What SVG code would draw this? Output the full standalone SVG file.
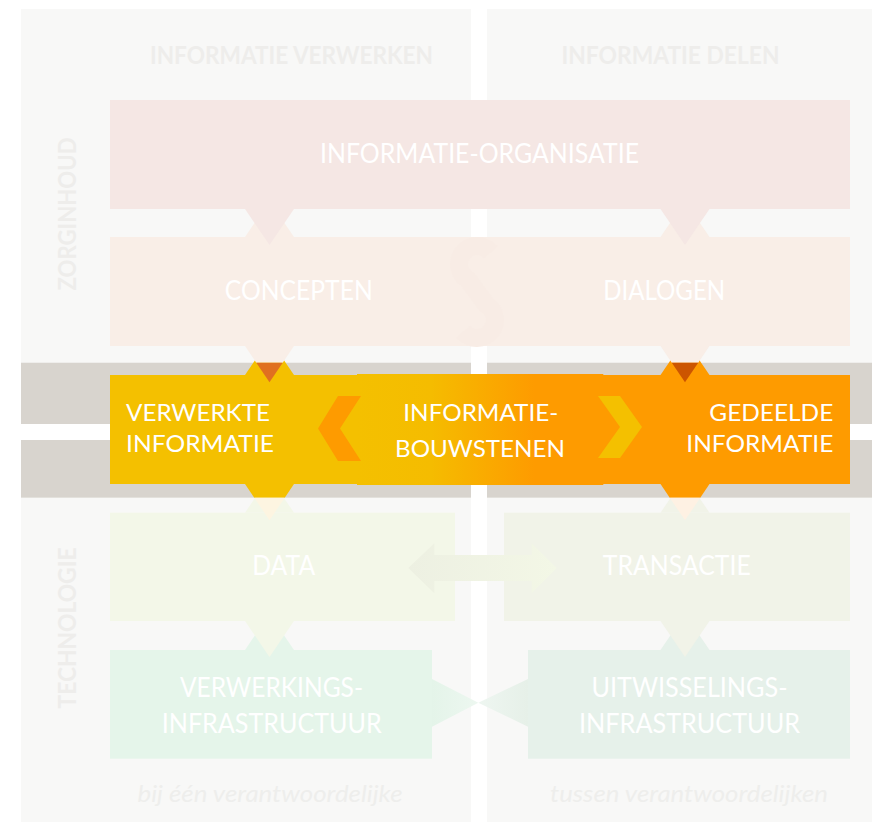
<svg xmlns="http://www.w3.org/2000/svg" width="872" height="822" viewBox="0 0 872 822">
<style>
.lbl{font-family:Lato,"Open Sans","Liberation Sans",sans-serif;fill:#ffffff;font-size:27px}
.r3{font-size:24px}
.hd{font-family:Lato,"Open Sans","Liberation Sans",sans-serif;font-weight:bold;fill:#eeedeb;font-size:25.5px}
.it{font-family:Lato,"Open Sans","Liberation Sans",sans-serif;font-style:italic;fill:#eeeeec;font-size:24px}
.panel{fill:#f8f8f7}
.band{fill:#d8d4ce}
</style>
<defs>
<linearGradient id="gBou" x1="357" y1="0" x2="603.3" y2="0" gradientUnits="userSpaceOnUse">
<stop offset="0" stop-color="#f4c000"/><stop offset="0.3" stop-color="#f5bc00"/><stop offset="0.72" stop-color="#fe9b00"/><stop offset="1" stop-color="#fe9b00"/>
</linearGradient>
<linearGradient id="gArrow" x1="408" y1="0" x2="557" y2="0" gradientUnits="userSpaceOnUse">
<stop offset="0" stop-color="#edf0e2"/><stop offset="1" stop-color="#f3f7e6"/>
</linearGradient>
<linearGradient id="gBowL" x1="432" y1="0" x2="478" y2="0" gradientUnits="userSpaceOnUse">
<stop offset="0" stop-color="#e4f4e9"/><stop offset="1" stop-color="#edf7f0"/>
</linearGradient>
<linearGradient id="gBowR" x1="528" y1="0" x2="478" y2="0" gradientUnits="userSpaceOnUse">
<stop offset="0" stop-color="#e6f0e8"/><stop offset="1" stop-color="#eef6f1"/>
</linearGradient>
</defs>
<rect width="872" height="822" fill="#ffffff"/>
<g id="background">
<rect class="panel" x="21" y="9" width="450" height="813"/>
<rect class="panel" x="487" y="9" width="385" height="813"/>
<rect x="0" y="362.7" width="872" height="135" fill="#ffffff"/>
<rect class="band" x="21" y="362.7" width="450" height="61.3"/>
<rect class="band" x="487" y="362.7" width="385" height="61.3"/>
<rect class="band" x="21" y="440" width="450" height="57.7"/>
<rect class="band" x="487" y="440" width="385" height="57.7"/>
</g>
<g id="headers">
<text class="hd" x="291.5" y="64" text-anchor="middle" textLength="283" lengthAdjust="spacingAndGlyphs">INFORMATIE VERWERKEN</text>
<text class="hd" x="670.5" y="64" text-anchor="middle" textLength="218" lengthAdjust="spacingAndGlyphs">INFORMATIE DELEN</text>
<text class="hd" transform="translate(76,214) rotate(-90)" text-anchor="middle" textLength="153" lengthAdjust="spacingAndGlyphs">ZORGINHOUD</text>
<text class="hd" transform="translate(76,628) rotate(-90)" text-anchor="middle" textLength="161" lengthAdjust="spacingAndGlyphs">TECHNOLOGIE</text>
<text class="it" x="270" y="802" text-anchor="middle" textLength="265" lengthAdjust="spacingAndGlyphs">bij één verantwoordelijke</text>
<text class="it" x="689" y="802" text-anchor="middle" textLength="278" lengthAdjust="spacingAndGlyphs">tussen verantwoordelijken</text>
</g>
<g id="node-verwerkings-infrastructuur">
<polygon points="245,650 294,650 269.5,614" fill="#e5f5ea"/>
<rect x="110" y="650" width="322" height="108.7" fill="#e5f5ea"/>
<polygon points="432,679 478.3,702.7 432,726.7" fill="url(#gBowL)"/>
<text class="lbl" x="271.5" y="696.7" text-anchor="middle" textLength="183" lengthAdjust="spacingAndGlyphs">VERWERKINGS-</text>
<text class="lbl" x="271.7" y="733.3" text-anchor="middle" textLength="220" lengthAdjust="spacingAndGlyphs">INFRASTRUCTUUR</text>
</g>
<g id="node-uitwisselings-infrastructuur">
<polygon points="660.5,650 709.5,650 685,614" fill="#e6f1ea"/>
<rect x="528" y="650" width="322" height="108.7" fill="#e6f1ea"/>
<polygon points="528,679 478.3,702.7 528,726.7" fill="url(#gBowR)"/>
<text class="lbl" x="689.5" y="696.7" text-anchor="middle" textLength="196" lengthAdjust="spacingAndGlyphs">UITWISSELINGS-</text>
<text class="lbl" x="689.5" y="733.3" text-anchor="middle" textLength="221" lengthAdjust="spacingAndGlyphs">INFRASTRUCTUUR</text>
</g>
<g id="node-data">
<polygon points="245,512.7 294,512.7 269.5,476.7" fill="#f3f7e8"/>
<rect x="110" y="512.7" width="345" height="108.3" fill="#f3f7e8"/>
<polygon points="245,621 294,621 269.5,657" fill="#f3f7e8"/>
<text class="lbl" x="283.7" y="575" text-anchor="middle" textLength="63" lengthAdjust="spacingAndGlyphs">DATA</text>
</g>
<g id="node-transactie">
<polygon points="660.5,512.7 709.5,512.7 685,476.7" fill="#f1f3e8"/>
<rect x="504" y="512.7" width="346" height="108.3" fill="#f1f3e8"/>
<polygon points="660.5,621 709.5,621 685,657" fill="#f1f3e8"/>
<text class="lbl" x="676.8" y="575" text-anchor="middle" textLength="148" lengthAdjust="spacingAndGlyphs">TRANSACTIE</text>
</g>
<g id="node-verwerkte-informatie">
<polygon points="245,375 294,375 269.5,339" fill="#f4c000"/>
<rect x="110" y="375" width="370" height="109" fill="#f4c000"/>
<polygon points="245,484 294,484 284.75,497.7 254.25,497.7" fill="#f4c000"/>
<polygon points="254.25,497.7 284.75,497.7 269.5,520.3" fill="#fdf5e1"/>
<text class="lbl r3" x="126" y="420.7" textLength="144" lengthAdjust="spacingAndGlyphs">VERWERKTE</text>
<text class="lbl r3" x="126" y="451.7" textLength="148" lengthAdjust="spacingAndGlyphs">INFORMATIE</text>
</g>
<g id="node-gedeelde-informatie">
<polygon points="660.5,375 709.5,375 685,339" fill="#fe9b00"/>
<rect x="480" y="375" width="370" height="109" fill="#fe9b00"/>
<polygon points="660.5,484 709.5,484 700.25,497.7 669.75,497.7" fill="#fe9b00"/>
<polygon points="669.75,497.7 700.25,497.7 685,520.3" fill="#fef1e3"/>
<text class="lbl r3" x="833.3" y="420.7" text-anchor="end" textLength="124" lengthAdjust="spacingAndGlyphs">GEDEELDE</text>
<text class="lbl r3" x="833.3" y="451.7" text-anchor="end" textLength="147" lengthAdjust="spacingAndGlyphs">INFORMATIE</text>
</g>
<g id="node-informatie-bouwstenen">
<rect x="357" y="374" width="246.3" height="111" fill="url(#gBou)"/>
<text class="lbl r3" x="480.8" y="420.7" text-anchor="middle" textLength="155" lengthAdjust="spacingAndGlyphs">INFORMATIE-</text>
<text class="lbl r3" x="480" y="457.3" text-anchor="middle" textLength="170" lengthAdjust="spacingAndGlyphs">BOUWSTENEN</text>
</g>
<g id="connectors">
<polygon points="338,396 361,396 340,428.5 361,461 338,461 318,428.5" fill="#fe9b00"/>
<polygon points="598,396 620,396 642,427 620,458 598,458 620,427" fill="#f4c000"/>
<polygon points="408.3,568 434.3,543.3 434.3,555 531.7,555 531.7,543.3 556.7,568 531.7,593.3 531.7,581 434.3,581 434.3,593.3" fill="url(#gArrow)"/>
</g>
<g id="node-concepten">
<polygon points="245,237 294,237 269.5,201" fill="#f9eee7"/>
<rect x="110" y="237" width="370" height="109" fill="#f9eee7"/>
<polygon points="245,346 294,346 282.73,362.7 256.27,362.7" fill="#f9eee7"/>
<polygon points="256.27,362.7 282.73,362.7 269.5,382.3" fill="#e07020"/>
<text class="lbl" x="298.8" y="300" text-anchor="middle" textLength="148" lengthAdjust="spacingAndGlyphs">CONCEPTEN</text>
</g>
<g id="node-dialogen">
<polygon points="660.5,237 709.5,237 685,201" fill="#f9eee7"/>
<rect x="480" y="237" width="370" height="109" fill="#f9eee7"/>
<polygon points="660.5,346 709.5,346 698.23,362.7 671.77,362.7" fill="#f9eee7"/>
<polygon points="671.77,362.7 698.23,362.7 685,382.3" fill="#cc5500"/>
<text class="lbl" x="664.2" y="300" text-anchor="middle" textLength="122" lengthAdjust="spacingAndGlyphs">DIALOGEN</text>
</g>
<g id="symbol">
<path d="M490.8,252.4 A18,18 0 1,0 468,279.6 L486,304.4 A18,18 0 1,1 463.2,331.6" fill="none" stroke="#f8ece5" stroke-width="18"/>
</g>
<g id="node-informatie-organisatie">
<rect x="110" y="100" width="740" height="109" fill="#f5e7e4"/>
<polygon points="245,209 294,209 269.5,245" fill="#f5e7e4"/>
<polygon points="660.5,209 709.5,209 685,245" fill="#f5e7e4"/>
<text class="lbl" x="479.5" y="162.5" text-anchor="middle" textLength="319" lengthAdjust="spacingAndGlyphs">INFORMATIE-ORGANISATIE</text>
</g>
</svg>
